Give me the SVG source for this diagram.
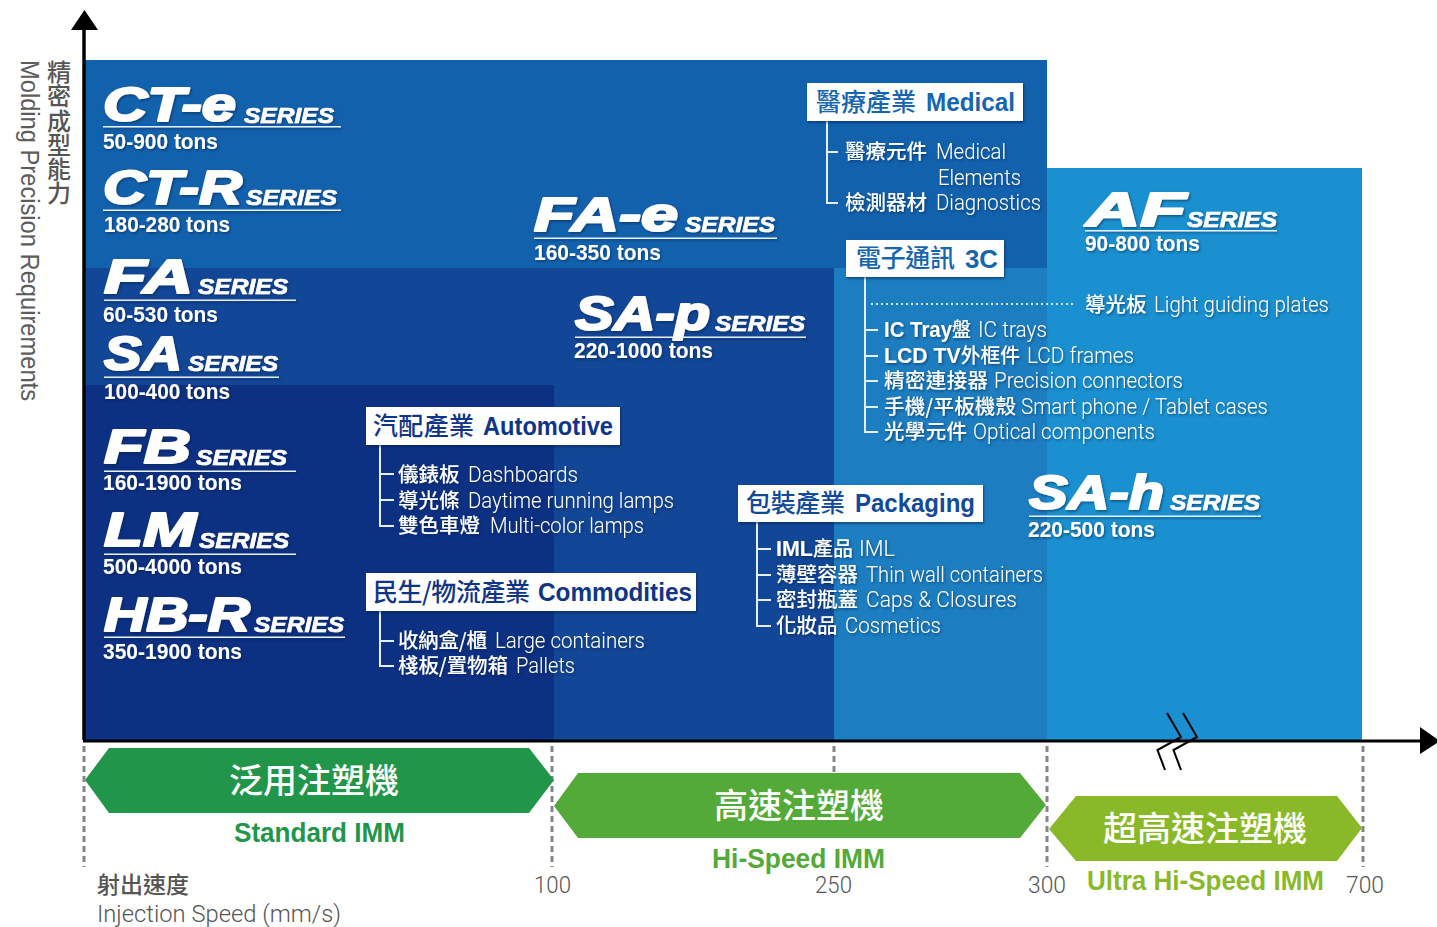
<svg xmlns="http://www.w3.org/2000/svg" width="1437" height="927" viewBox="0 0 1437 927">
<style>
text{font-family:"Liberation Sans","Noto Sans CJK TC",sans-serif}
.cjk{font-family:"Noto Sans CJK TC","Liberation Sans",sans-serif}
.logo{font-weight:700;font-style:italic;font-size:48px;fill:#fff;stroke:#fff;stroke-width:2.2;stroke-linejoin:round}
.ser{font-weight:700;font-style:italic;font-size:22.5px;fill:#fff;stroke:#fff;stroke-width:.7}
.ton{font-weight:700;font-size:22px;fill:#fff}
.rule{fill:#e8f0f8}
.box{fill:#fff;filter:url(#bs)}
.hc{font-family:"Noto Sans CJK TC",sans-serif;font-size:25px;font-weight:500}
.hl{font-size:26px;font-weight:700}
.ic{font-family:"Noto Sans CJK TC",sans-serif;font-size:20.5px;font-weight:500;fill:#fff}
.ib{font-size:22px;font-weight:700;fill:#fff}
.il{font-family:Roboto,"Liberation Sans",sans-serif;font-size:22.5px;font-weight:300;fill:#fff}
.band{font-family:"Noto Sans CJK TC",sans-serif;font-size:34px;font-weight:500;fill:#fff;text-anchor:middle}
.bl{font-size:27.5px;font-weight:700}
.num{font-family:Roboto,"Liberation Sans",sans-serif;font-size:24.5px;font-weight:300;fill:#555}
.tree{fill:none;stroke:#e6eef6;stroke-width:2}
.dash{fill:none;stroke:#858589;stroke-width:3;stroke-dasharray:6 4}
.shadow{filter:url(#ts)}
</style>
<defs>
<filter id="ts" x="-5%" y="-15%" width="112%" height="140%"><feDropShadow dx="1.2" dy="1.4" stdDeviation="0.9" flood-color="#001a4a" flood-opacity="0.55"/></filter>
<filter id="bs" x="-3%" y="-10%" width="106%" height="125%"><feDropShadow dx="1" dy="1.500" stdDeviation="1" flood-color="#001a4a" flood-opacity="0.6"/></filter>
</defs>
<g id="background">
<rect x="85" y="60" width="962" height="680" fill="#1261ad"/>
<rect x="1047" y="168" width="315" height="572" fill="#1a90d0"/>
<rect x="85" y="268" width="749" height="472" fill="#124696"/>
<rect x="834" y="268" width="213" height="472" fill="#1c7dc0"/>
<rect x="85" y="385" width="469" height="355" fill="#0c3082"/>
</g>
<g id="axis-labels">
<text class="cjk" x="59" y="60" font-size="24" font-weight="500" fill="#555" letter-spacing="0.2" style="writing-mode:vertical-rl">精密成型能力</text>
<text transform="translate(21 60) rotate(90)" font-family="Roboto" font-size="25" font-weight="300" fill="#5c5c5c" textLength="341" lengthAdjust="spacingAndGlyphs">Molding Precision Requirements</text>
<text class="cjk" x="97" y="893" font-size="23" font-weight="500" fill="#555">射出速度</text>
<text class="num" x="97" y="922" textLength="244" lengthAdjust="spacingAndGlyphs">Injection Speed (mm/s)</text>
<text class="num" x="534" y="893" textLength="37" lengthAdjust="spacingAndGlyphs">100</text>
<text class="num" x="815" y="893" textLength="37" lengthAdjust="spacingAndGlyphs">250</text>
<text class="num" x="1028" y="893" textLength="38" lengthAdjust="spacingAndGlyphs">300</text>
<text class="num" x="1346" y="893" textLength="38" lengthAdjust="spacingAndGlyphs">700</text>
</g>
<g id="connectors">
<path d="M84 740V28" fill="none" stroke="#000" stroke-width="3.5"/>
<path d="M71 30H98L84.500 10Z" fill="#000"/>
<path d="M83 741H1425" fill="none" stroke="#000" stroke-width="3"/>
<path d="M1420 727L1440 741L1420 754Z" fill="#000"/>
<path class="dash" d="M84 746V867M552 746V867M834 746V773M1047 746V867M1363 746V867"/>
<path d="M1167 713L1181 737L1157.500 750L1165 770M1183 713L1197 737L1173.500 750L1181 770" fill="none" stroke="#000" stroke-width="2"/>
<path class="tree" d="M827 121V203H838M827 152H838"/>
<path class="tree" d="M865 277V432H878M865 330H878M865 356H878M865 381H878M865 407H878"/>
<path d="M871 304H1076" fill="none" stroke="#cfe4f3" stroke-width="2" stroke-dasharray="2 3"/>
<path class="tree" d="M380 445V526H394M380 474H394M380 500H394"/>
<path class="tree" d="M380 611V666H394M380 641H394"/>
<path class="tree" d="M757 522V626H771M757 549H771M757 575H771M757 600H771"/>
</g>
<g id="series-ct-e" class="shadow"><text class="logo" x="103" y="121" textLength="133" lengthAdjust="spacingAndGlyphs">CT-e</text><text class="ser" x="244" y="123" textLength="90" lengthAdjust="spacingAndGlyphs">SERIES</text><rect class="rule" x="103" y="126" width="238" height="1.500"/><text class="ton" x="103" y="149" textLength="115" lengthAdjust="spacingAndGlyphs">50-900 tons</text></g>
<g id="series-ct-r" class="shadow"><text class="logo" x="103" y="204" textLength="139" lengthAdjust="spacingAndGlyphs">CT-R</text><text class="ser" x="246" y="205" textLength="91" lengthAdjust="spacingAndGlyphs">SERIES</text><rect class="rule" x="103" y="209.500" width="238" height="1.500"/><text class="ton" x="104" y="232" textLength="126" lengthAdjust="spacingAndGlyphs">180-280 tons</text></g>
<g id="series-fa" class="shadow"><text class="logo" x="104" y="293" textLength="89" lengthAdjust="spacingAndGlyphs">FA</text><text class="ser" x="198" y="294" textLength="90" lengthAdjust="spacingAndGlyphs">SERIES</text><rect class="rule" x="104" y="299.500" width="192" height="1.500"/><text class="ton" x="103" y="322" textLength="115" lengthAdjust="spacingAndGlyphs">60-530 tons</text></g>
<g id="series-sa" class="shadow"><text class="logo" x="104" y="370" textLength="78" lengthAdjust="spacingAndGlyphs">SA</text><text class="ser" x="188" y="371" textLength="90" lengthAdjust="spacingAndGlyphs">SERIES</text><rect class="rule" x="104" y="376.500" width="175" height="1.500"/><text class="ton" x="104" y="399" textLength="126" lengthAdjust="spacingAndGlyphs">100-400 tons</text></g>
<g id="series-fb" class="shadow"><text class="logo" x="104" y="463" textLength="87" lengthAdjust="spacingAndGlyphs">FB</text><text class="ser" x="196" y="465" textLength="91" lengthAdjust="spacingAndGlyphs">SERIES</text><rect class="rule" x="104" y="470.500" width="192" height="1.500"/><text class="ton" x="103" y="490" textLength="139" lengthAdjust="spacingAndGlyphs">160-1900 tons</text></g>
<g id="series-lm" class="shadow"><text class="logo" x="104" y="546" textLength="92" lengthAdjust="spacingAndGlyphs">LM</text><text class="ser" x="199" y="548" textLength="90" lengthAdjust="spacingAndGlyphs">SERIES</text><rect class="rule" x="104" y="553.500" width="192" height="1.500"/><text class="ton" x="103" y="574" textLength="139" lengthAdjust="spacingAndGlyphs">500-4000 tons</text></g>
<g id="series-hb-r" class="shadow"><text class="logo" x="104" y="631" textLength="146" lengthAdjust="spacingAndGlyphs">HB-R</text><text class="ser" x="254" y="632" textLength="90" lengthAdjust="spacingAndGlyphs">SERIES</text><rect class="rule" x="104" y="636.500" width="241" height="1.500"/><text class="ton" x="103" y="659" textLength="139" lengthAdjust="spacingAndGlyphs">350-1900 tons</text></g>
<g id="series-fa-e" class="shadow"><text class="logo" x="534" y="231" textLength="144" lengthAdjust="spacingAndGlyphs">FA-e</text><text class="ser" x="685" y="232" textLength="90" lengthAdjust="spacingAndGlyphs">SERIES</text><rect class="rule" x="534" y="237.500" width="243" height="1.500"/><text class="ton" x="534" y="260" textLength="127" lengthAdjust="spacingAndGlyphs">160-350 tons</text></g>
<g id="series-sa-p" class="shadow"><text class="logo" x="575" y="330" textLength="135" lengthAdjust="spacingAndGlyphs">SA-p</text><text class="ser" x="715" y="331" textLength="90" lengthAdjust="spacingAndGlyphs">SERIES</text><rect class="rule" x="575" y="336.500" width="231" height="1.500"/><text class="ton" x="574" y="358" textLength="139" lengthAdjust="spacingAndGlyphs">220-1000 tons</text></g>
<g id="series-af" class="shadow"><text class="logo" x="1086" y="226" textLength="100" lengthAdjust="spacingAndGlyphs">AF</text><text class="ser" x="1187" y="227" textLength="90" lengthAdjust="spacingAndGlyphs">SERIES</text><rect class="rule" x="1085" y="230" width="192" height="1.500"/><text class="ton" x="1085" y="251" textLength="115" lengthAdjust="spacingAndGlyphs">90-800 tons</text></g>
<g id="series-sa-h" class="shadow"><text class="logo" x="1029" y="509" textLength="135" lengthAdjust="spacingAndGlyphs">SA-h</text><text class="ser" x="1170" y="510" textLength="90" lengthAdjust="spacingAndGlyphs">SERIES</text><rect class="rule" x="1029" y="515.500" width="232" height="1.500"/><text class="ton" x="1028" y="537" textLength="127" lengthAdjust="spacingAndGlyphs">220-500 tons</text></g>

<g id="medical" fill="#1565b0"><rect class="box" x="807" y="83" width="216" height="38"/><text class="hc" x="816" y="111" textLength="100">醫療產業</text><text class="hl" x="926" y="111" textLength="89" lengthAdjust="spacingAndGlyphs">Medical</text>
<g class="shadow"><text class="ic" x="845" y="159">醫療元件</text><text class="il" x="936" y="159" textLength="70" lengthAdjust="spacingAndGlyphs">Medical</text><text class="il" x="938" y="185" textLength="83" lengthAdjust="spacingAndGlyphs">Elements</text><text class="ic" x="845" y="210">檢測器材</text><text class="il" x="936" y="210" textLength="105" lengthAdjust="spacingAndGlyphs">Diagnostics</text></g></g>
<g id="electronics-3c" fill="#1565b0"><rect class="box" x="846" y="240" width="158" height="37"/><text class="hc" x="856" y="267" textLength="99">電子通訊</text><text class="hl" x="965" y="268" textLength="33" lengthAdjust="spacingAndGlyphs">3C</text>
<g class="shadow"><text class="ic" x="1085" y="312">導光板</text><text class="il" x="1154" y="312" textLength="175" lengthAdjust="spacingAndGlyphs">Light guiding plates</text>
<text class="ib" x="884" y="337" textLength="87" lengthAdjust="spacingAndGlyphs">IC Tray<tspan class="ic">盤</tspan></text><text class="il" x="978" y="337" textLength="69" lengthAdjust="spacingAndGlyphs">IC trays</text>
<text class="ib" x="884" y="363" textLength="136" lengthAdjust="spacingAndGlyphs">LCD TV<tspan class="ic">外框件</tspan></text><text class="il" x="1027" y="363" textLength="107" lengthAdjust="spacingAndGlyphs">LCD frames</text>
<text class="ic" x="884" y="388" textLength="104">精密連接器</text><text class="il" x="994" y="388" textLength="189" lengthAdjust="spacingAndGlyphs">Precision connectors</text>
<text class="ic" x="884" y="414" textLength="132">手機/平板機殼</text><text class="il" x="1021" y="414" textLength="247" lengthAdjust="spacingAndGlyphs">Smart phone / Tablet cases</text>
<text class="ic" x="884" y="439" textLength="83">光學元件</text><text class="il" x="973" y="439" textLength="182" lengthAdjust="spacingAndGlyphs">Optical components</text></g></g>
<g id="automotive" fill="#0f3587"><rect class="box" x="366" y="407" width="254" height="38"/><text class="hc" x="373" y="435" textLength="101">汽配產業</text><text class="hl" x="483" y="435" textLength="130" lengthAdjust="spacingAndGlyphs">Automotive</text>
<g class="shadow"><text class="ic" x="398" y="482">儀錶板</text><text class="il" x="468" y="482" textLength="110" lengthAdjust="spacingAndGlyphs">Dashboards</text><text class="ic" x="398" y="508">導光條</text><text class="il" x="468" y="508" textLength="206" lengthAdjust="spacingAndGlyphs">Daytime running lamps</text><text class="ic" x="398" y="533">雙色車燈</text><text class="il" x="490" y="533" textLength="154" lengthAdjust="spacingAndGlyphs">Multi-color lamps</text></g></g>
<g id="commodities" fill="#0f3587"><rect class="box" x="366" y="573" width="330" height="38"/><text class="hc" x="373" y="601" textLength="157">民生/物流產業</text><text class="hl" x="538" y="601" textLength="154" lengthAdjust="spacingAndGlyphs">Commodities</text>
<g class="shadow"><text class="ic" x="398" y="648" textLength="89">收納盒/櫃</text><text class="il" x="495" y="648" textLength="150" lengthAdjust="spacingAndGlyphs">Large containers</text><text class="ic" x="398" y="673" textLength="110">棧板/置物箱</text><text class="il" x="516" y="673" textLength="59" lengthAdjust="spacingAndGlyphs">Pallets</text></g></g>
<g id="packaging" fill="#124a9a"><rect class="box" x="738" y="485" width="245" height="37"/><text class="hc" x="746" y="512" textLength="99">包裝產業</text><text class="hl" x="855" y="512" textLength="120" lengthAdjust="spacingAndGlyphs">Packaging</text>
<g class="shadow"><text class="ib" x="776" y="556" textLength="77" lengthAdjust="spacingAndGlyphs">IML<tspan class="ic">產品</tspan></text><text class="il" x="859" y="556" textLength="36" lengthAdjust="spacingAndGlyphs">IML</text><text class="ic" x="776" y="582">薄壁容器</text><text class="il" x="866" y="582" textLength="177" lengthAdjust="spacingAndGlyphs">Thin wall containers</text><text class="ic" x="776" y="607">密封瓶蓋</text><text class="il" x="866" y="607" textLength="151" lengthAdjust="spacingAndGlyphs">Caps &amp; Closures</text><text class="ic" x="776" y="633">化妝品</text><text class="il" x="845" y="633" textLength="96" lengthAdjust="spacingAndGlyphs">Cosmetics</text></g></g>

<g id="band-standard"><path d="M85 780L109 748H529L554 780L529 813H109Z" fill="#21964a"/><text class="band" x="314" y="793">泛用注塑機</text><text class="bl" x="234" y="842" fill="#21964a" textLength="171" lengthAdjust="spacingAndGlyphs">Standard IMM</text></g>
<g id="band-hi-speed"><path d="M554 806L578 773H1020L1046 805L1020 838H578Z" fill="#53aa38"/><text class="band" x="799" y="818">高速注塑機</text><text class="bl" x="712" y="868" fill="#53aa38" textLength="173" lengthAdjust="spacingAndGlyphs">Hi-Speed IMM</text></g>
<g id="band-ultra"><path d="M1049 829L1076 796H1337L1362 828L1337 861H1076Z" fill="#89b928"/><text class="band" x="1205" y="841">超高速注塑機</text><text class="bl" x="1087" y="890" fill="#89b928" textLength="237" lengthAdjust="spacingAndGlyphs">Ultra Hi-Speed IMM</text></g>
</svg>
